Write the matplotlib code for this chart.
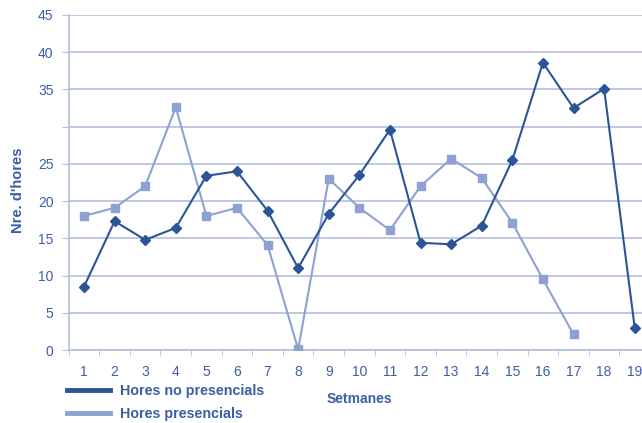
import numpy as np
import matplotlib
matplotlib.use('Agg')
import matplotlib.pyplot as plt
from matplotlib.lines import Line2D

plt.rcParams['font.family'] = ['Liberation Sans', 'DejaVu Sans']

# dades llegides del gràfic
setmanes = list(range(1, 20))
no_presencials = [8.5, 17.3, 14.8, 16.4, 23.4, 24.0, 18.7, 11.0, 18.3, 23.5,
                  29.6, 14.4, 14.2, 16.7, 25.5, 38.6, 32.5, 35.1, 3.0]
presencials = [18.0, 19.1, 22.0, 32.6, 18.0, 19.1, 14.1, 0.1, 23.0, 19.1,
               16.1, 22.0, 25.7, 23.1, 17.1, 9.5, 2.1]
y_ticks = [0, 5, 10, 15, 20, 25, 30, 35, 40, 45]
y_labels = ['0', '5', '10', '15', '20', '25', '', '35', '40', '45']

text_col = '#3d5da6'
dark = '#2c5597'
light = '#8da2d2'
grid_col = '#b4bedd'

fig = plt.figure(figsize=(6.42, 4.23), dpi=100)
ax = fig.add_axes([68.7 / 642, 73 / 423, 581.3 / 642, 335 / 423])

ax.plot(setmanes, no_presencials, color=dark, lw=1.5, marker='D', ms=5,
        mfc=dark, mec=dark, zorder=4)
ax.plot(setmanes[:len(presencials)], presencials, color=light, lw=1.5,
        marker='s', ms=5.5, mfc=light, mec=light, zorder=3)

ax.set_xlim(0.5, 19.5)
ax.set_ylim(0, 45)
ax.set_yticks(y_ticks)
ax.set_yticklabels(y_labels)
ax.set_xticks(setmanes)
ax.set_xticks(np.arange(0.5, 20, 1), minor=True)
ax.tick_params(axis='x', which='major', length=0, pad=11, labelsize=10,
               labelcolor=text_col)
ax.tick_params(axis='x', which='minor', length=4, color=grid_col, direction='out')
ax.tick_params(axis='y', length=5, color=grid_col, labelsize=10,
               labelcolor=text_col, pad=6)
ax.grid(axis='y', color=grid_col, lw=1.2)
ax.set_axisbelow(True)
for s in ['top', 'right']:
    ax.spines[s].set_visible(False)
for s in ['left', 'bottom']:
    ax.spines[s].set_color(grid_col)
    ax.spines[s].set_linewidth(1.2)

ax.set_xlabel('Setmanes', fontsize=10, fontweight='bold', color=text_col, labelpad=9)
ax.set_ylabel("Nre. d'hores", fontsize=10.5, fontweight='bold', color=text_col)
ax.yaxis.set_label_coords(-0.076, 0.478)

handles = [Line2D([], [], color=dark, lw=3.5), Line2D([], [], color=light, lw=3.5)]
leg = fig.legend(handles, ['Hores no presencials', 'Hores presencials'],
                 loc='upper left', bbox_to_anchor=(67 / 642, 1 - 384 / 423),
                 frameon=False, borderpad=0, borderaxespad=0, handlelength=3.0,
                 handletextpad=0.7, labelspacing=0.62,
                 prop={'size': 10.3, 'weight': 'bold'})
for t in leg.get_texts():
    t.set_color(text_col)

fig.savefig('out.png', dpi=100)
